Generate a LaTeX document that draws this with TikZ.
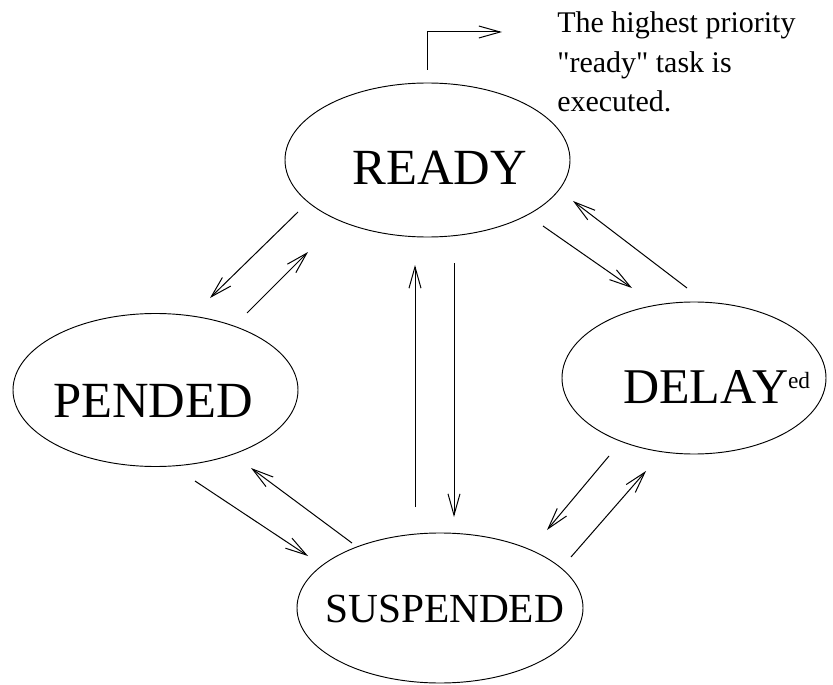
\documentclass[tikz,border=0pt]{standalone}
\usepackage{fontspec}
\setmainfont{Liberation Serif}
\newfontfamily\notefont{Liberation Serif}[Ligatures=TeXOff]
\usetikzlibrary{shapes.geometric,arrows.meta}
\begin{document}
\begin{tikzpicture}[x=0.75pt,y=-0.75pt,
  state/.style={draw,ellipse,line width=0.7pt,inner sep=0pt},
  statelabel/.style={anchor=base west,inner sep=0pt,font=\fontsize{38}{40}\selectfont},
  flow/.style={line width=0.75pt,-{Straight Barb[length=16pt,width=9pt]}},
  note/.style={anchor=base west,inner sep=0pt,font=\notefont\fontsize{22.5}{28}\selectfont}]
\useasboundingbox (0,0) rectangle (833,685);

% task states
\node[state,minimum width=213.75pt,minimum height=115.5pt] (ready) at (427.5,160) {};
\node[state,minimum width=213.75pt,minimum height=114.75pt] (pended) at (155.5,390) {};
\node[state,minimum width=198pt,minimum height=114pt] (delay) at (694,378) {};
\node[state,minimum width=214.5pt,minimum height=112.5pt] (suspended) at (440,608) {};

% state names
\node[statelabel] (readytext) at (352,185) {READY};
\node[statelabel] (pendedtext) at (53,417) {PENDED};
\node[statelabel,font=\fontsize{37.5}{40}\selectfont] (delaytext) at (623,403)
  {DELAY\raisebox{11pt}{\fontsize{17.5}{19}\selectfont ed}};
\node[statelabel,font=\fontsize{31}{34}\selectfont] (suspendedtext) at (325,622) {SUSPENDED};

% note on the running task
\node[note] (note1) at (557,33) {The highest priority};
\node[note] (note2) at (557,73) {"ready" task is};
\node[note] (note3) at (557,112) {executed.};

% arrow ends
\coordinate (rp1) at (298,212); \coordinate (rp2) at (210,298);
\coordinate (pr1) at (247,313); \coordinate (pr2) at (308,252);
\coordinate (sr1) at (415,507); \coordinate (sr2) at (415,265);
\coordinate (rs1) at (454,263); \coordinate (rs2) at (454,517);
\coordinate (rd1) at (543,226); \coordinate (rd2) at (632,288);
\coordinate (dr1) at (687,288); \coordinate (dr2) at (573,201);
\coordinate (ps1) at (195,481); \coordinate (ps2) at (308,556);
\coordinate (sp1) at (352,543); \coordinate (sp2) at (251,468);
\coordinate (ds1) at (609,456); \coordinate (ds2) at (547,530);
\coordinate (sd1) at (571,557); \coordinate (sd2) at (646,471);
\coordinate (run1) at (427,70); \coordinate (run2) at (427,32); \coordinate (run3) at (502,32);

% transitions
\draw[flow] (rp1) -- (rp2);
\draw[flow] (pr1) -- (pr2);
\draw[flow] (sr1) -- (sr2);
\draw[flow] (rs1) -- (rs2);
\draw[flow] (rd1) -- (rd2);
\draw[flow] (dr1) -- (dr2);
\draw[flow] (ps1) -- (ps2);
\draw[flow] (sp1) -- (sp2);
\draw[flow] (ds1) -- (ds2);
\draw[flow] (sd1) -- (sd2);
\draw[flow] (run1) -- (run2) -- (run3);
\end{tikzpicture}
\end{document}
